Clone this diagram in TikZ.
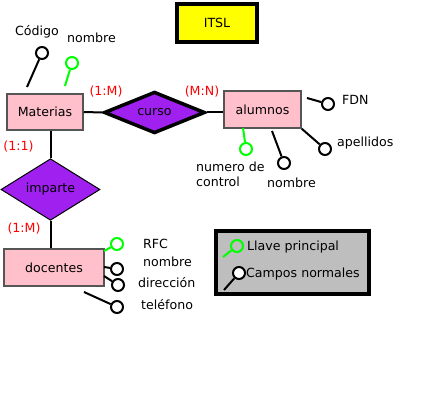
\documentclass[tikz,border=0pt]{standalone}
\usepackage{fontspec}
\setmainfont{DejaVu Sans}
\usetikzlibrary{shapes.geometric,positioning}
\definecolor{entity}{HTML}{FFC0CB}
\definecolor{relation}{HTML}{A020F0}
\definecolor{keygreen}{HTML}{00FF00}
\definecolor{title}{HTML}{FFFF00}
\definecolor{legendbg}{HTML}{BEBEBE}
\definecolor{cardred}{HTML}{FF0000}
\definecolor{edge}{HTML}{555555}
\tikzset{
  every node/.style={font=\fontsize{12.6}{15}\selectfont},
  entidad/.style={draw=edge,line width=1.5pt,fill=entity,inner sep=0pt},
  relacion/.style={diamond,draw=black,fill=relation,inner sep=0pt},
  attr/.style={circle,draw=black,fill=white,line width=2pt,minimum size=12pt,inner sep=0pt},
  llave/.style={attr,draw=keygreen},
  enlace/.style={line width=2pt,draw=black},
  keylink/.style={enlace,draw=keygreen},
  cardinal/.style={text=cardred,inner sep=0pt},
  etiqueta/.style={anchor=west,inner sep=0pt,align=left},
}

\begin{document}
\begin{tikzpicture}[x=1pt,y=-1pt]
\useasboundingbox (0,0) rectangle (441,403);

% titulo
\node[draw=black,line width=4pt,fill=title,minimum width=80,minimum height=38] (itsl) at (217,23) {ITSL};

% entidades y relaciones
\node[entidad,minimum width=76,minimum height=36] (materias) at (45,112) {Materias};
\node[relacion,line width=3.5pt,minimum width=101,minimum height=41] (curso) at (154.5,112.5) {curso};
\node[entidad,minimum width=77,minimum height=37] (alumnos) at (262.5,109.5) {alumnos};
\node[relacion,line width=1pt,minimum width=99,minimum height=55] (imparte) at (50.5,189.5) {imparte};
\node[entidad,minimum width=100,minimum height=37] (docentes) at (54,267.5) {docentes};

\draw[enlace] (materias.east) -- (curso.west);
\draw[enlace] (curso.east) -- (curso.east -| alumnos.west);
\draw[enlace] (materias.south -| imparte.north) -- (imparte.north);
\draw[enlace] (imparte.south) -- (imparte.south |- docentes.north);

% cardinalidades
\node[cardinal] (c1) at (106,92) {(1:M)};
\node[cardinal] (c2) at (202,92) {(M:N)};
\node[cardinal] (c3) at (18.5,147) {(1:1)};
\node[cardinal] (c4) at (24,229) {(1:M)};

% atributos de Materias
\coordinate (m1) at (27,87);
\coordinate (m2) at (65,86);
\node[attr] (codigo) at (42,53) {};
\node[llave] (mnombre) at (72,63) {};
\draw[enlace] (m1) -- (codigo);
\draw[keylink] (m2) -- (mnombre);
\node[etiqueta] at (15,32) {Código};
\node[etiqueta] at (67,38) {nombre};

% atributos de alumnos
\coordinate (a1) at (307,98);
\coordinate (a2) at (272,131);
\coordinate (a3) at (243,128);
\node[attr] (fdn) at (328,104) {};
\node[attr] (apellidos) at (325,149) {};
\node[attr] (anombre) at (284,163) {};
\node[llave] (control) at (246,149) {};
\draw[enlace] (a1) -- (fdn);
\draw[enlace] (alumnos.south east) -- (apellidos);
\draw[enlace] (a2) -- (anombre);
\draw[keylink] (a3) -- (control);
\node[etiqueta] at (342,100) {FDN};
\node[etiqueta] at (337,143) {apellidos};
\node[etiqueta] at (267,183) {nombre};
\node[etiqueta] at (196,174.5) {numero de\\control};

% atributos de docentes
\coordinate (d1) at (104,251);
\coordinate (d2) at (104,267);
\coordinate (d3) at (104,276);
\coordinate (d4) at (84,292);
\node[llave] (rfc) at (117,244) {};
\node[attr] (dnombre) at (117,269) {};
\node[attr] (direccion) at (118,285) {};
\node[attr] (telefono) at (117,307) {};
\draw[keylink] (d1) -- (rfc);
\draw[enlace] (d2) -- (dnombre);
\draw[enlace] (d3) -- (direccion);
\draw[enlace] (d4) -- (telefono);
\node[etiqueta] at (143,244) {RFC};
\node[etiqueta] at (143,262) {nombre};
\node[etiqueta] at (138,283) {dirección};
\node[etiqueta] at (141,305) {teléfono};

% leyenda
\node[draw=black,line width=4.5pt,fill=legendbg,minimum width=153,minimum height=63] (leyenda) at (292.5,262.5) {};
\coordinate (l1) at (223,257);
\coordinate (l2) at (224,290);
\node[llave,fill=legendbg] (lkey) at (237,246) {};
\node[attr] (lnormal) at (239,273) {};
\draw[keylink] (l1) -- (lkey);
\draw[enlace] (l2) -- (lnormal);
\node[etiqueta] at (247,247) {Llave principal};
\node[etiqueta] at (246,274) {Campos normales};

\end{tikzpicture}
\end{document}
